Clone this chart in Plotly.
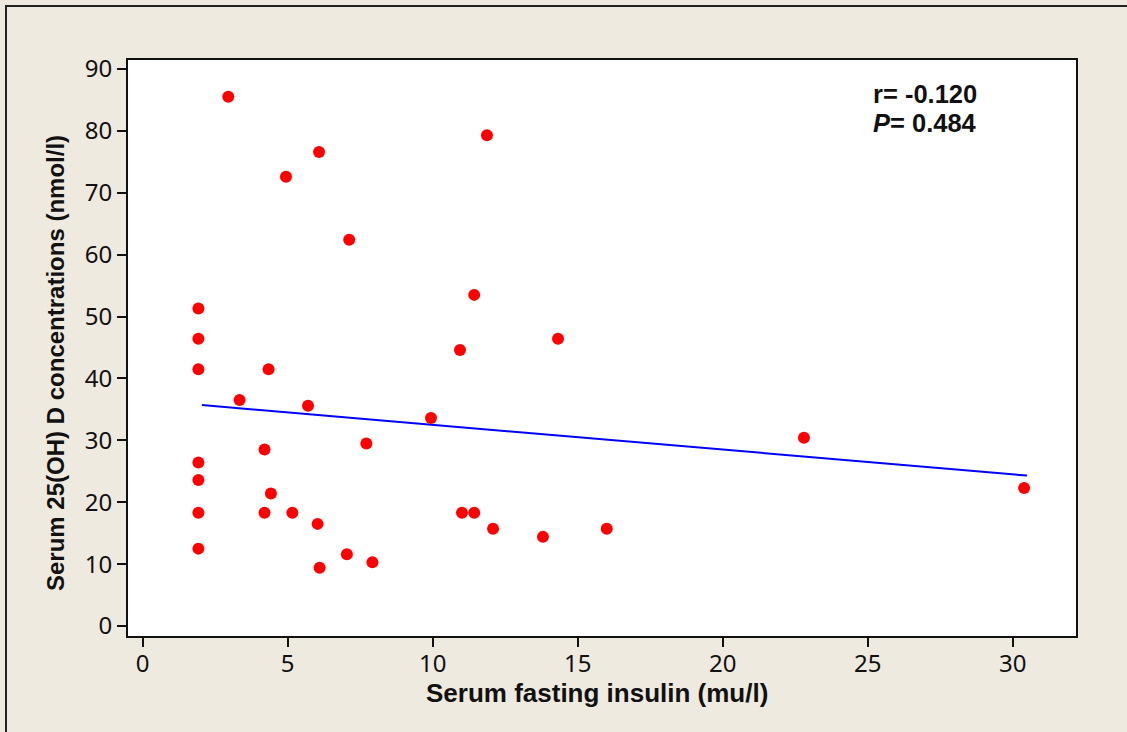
import plotly.graph_objects as go

# Serum fasting insulin (mu/l) vs serum 25(OH) D (nmol/l)
insulin = [2.95, 11.87, 6.08, 4.94, 7.12, 11.43, 1.92, 14.32, 1.92, 10.94,
           1.92, 4.34, 3.34, 5.70, 9.94, 22.80, 7.71, 4.20, 1.92, 1.92,
           30.39, 4.42, 1.92, 4.20, 5.16, 11.01, 11.43, 6.03, 12.08, 16.00,
           13.80, 1.92, 7.04, 7.92, 6.10]
vitamin_d = [85.5, 79.3, 76.6, 72.6, 62.4, 53.5, 51.3, 46.4, 46.4, 44.6,
             41.5, 41.5, 36.5, 35.6, 33.6, 30.4, 29.5, 28.5, 26.4, 23.6,
             22.3, 21.4, 18.3, 18.3, 18.3, 18.3, 18.3, 16.5, 15.7, 15.7,
             14.4, 12.5, 11.6, 10.3, 9.4]

# Regression line end points
fit_x = [2.04, 30.49]
fit_y = [35.7, 24.3]

x_ticks = [0, 5, 10, 15, 20, 25, 30]
y_ticks = [0, 10, 20, 30, 40, 50, 60, 70, 80, 90]

W, H = 1127, 732
L, R, T, B = 128, 51, 60, 96
pw, ph = W - L - R, H - T - B


def px(x):
    return (x - L) / pw


def py(y):
    return 1 - (y - T) / ph


bold = "Liberation Sans"
ink = "#111111"
tick_font = dict(family="Noto Sans", size=24, color=ink)

fig = go.Figure()
fig.add_trace(go.Scatter(x=fit_x, y=fit_y, mode="lines",
                         line=dict(color="#0000FF", width=2),
                         showlegend=False, hoverinfo="skip"))
fig.add_trace(go.Scatter(x=insulin, y=vitamin_d, mode="markers",
                         marker=dict(color="#FF0000", size=12),
                         showlegend=False))

axis_common = dict(showline=True, linecolor=ink, linewidth=2,
                   mirror=True, ticks="outside", ticklen=9, tickwidth=2,
                   tickcolor=ink, showgrid=False, zeroline=False,
                   tickfont=tick_font)

fig.update_xaxes(range=[-0.507, 32.18], tickvals=x_ticks,
                 ticklabelstandoff=-4, **axis_common)
fig.update_yaxes(range=[-1.616, 91.45], tickvals=y_ticks, **axis_common)

# axis titles
fig.add_annotation(x=px(597), y=py(693), xref="paper", yref="paper",
                   xanchor="center", yanchor="middle", showarrow=False,
                   text="<b>Serum fasting insulin (mu/l)</b>",
                   font=dict(family=bold, size=26, color=ink))
fig.add_annotation(x=px(55), y=py(363), xref="paper", yref="paper",
                   xanchor="center", yanchor="middle", showarrow=False,
                   textangle=-90,
                   text="<b>Serum 25(OH) D concentrations (nmol/l)</b>",
                   font=dict(family=bold, size=24, color=ink))

# correlation statistics
fig.add_annotation(x=px(871), y=py(94), xref="paper", yref="paper",
                   xanchor="left", yanchor="middle", showarrow=False,
                   text="<b>r= -0.120</b>",
                   font=dict(family=bold, size=25.5, color=ink))
fig.add_annotation(x=px(871), y=py(123), xref="paper", yref="paper",
                   xanchor="left", yanchor="middle", showarrow=False,
                   text="<b><i>P</i>= 0.484</b>",
                   font=dict(family=bold, size=25.5, color=ink))

# outer frame of the graph window
fig.add_shape(type="rect", xref="paper", yref="paper",
              x0=px(6), y0=py(760), x1=px(1160), y1=py(6),
              line=dict(color="#222222", width=2), fillcolor="rgba(0,0,0,0)",
              layer="below")

fig.update_layout(width=W, height=H,
                  margin=dict(l=L, r=R, t=T, b=B, pad=0),
                  paper_bgcolor="#EEEAE0", plot_bgcolor="#FFFFFF")

fig.write_html("out.html")
